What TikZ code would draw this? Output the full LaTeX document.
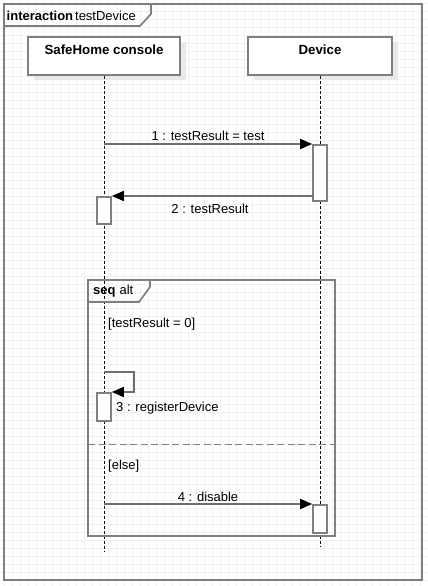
\documentclass[tikz,border=0pt]{standalone}
\usepackage{fontspec}
\setmainfont{Liberation Sans}
\usetikzlibrary{arrows.meta}
\definecolor{gridc}{HTML}{F1F1F1}
\definecolor{framec}{HTML}{7F7F7F}
\definecolor{msgc}{HTML}{6E6E6E}
\definecolor{shadowc}{HTML}{E9E9E9}
\begin{document}
\begin{tikzpicture}[x=1pt,y=-1pt,
  every node/.style={font=\fontsize{13}{15}\selectfont, inner sep=0pt},
  frameline/.style={draw=framec, line width=1.7pt},
  lifebox/.style={draw=framec, line width=1.7pt, fill=white, anchor=north,
     minimum height=38pt, text height=18pt, text depth=20pt, font=\fontsize{13.3}{15}\selectfont\bfseries},
  lifeline/.style={draw=black, line width=0.9pt, dash pattern=on 3pt off 2pt},
  activation/.style={draw=framec, line width=1.6pt, fill=white, minimum width=14pt, anchor=north},
  msg/.style={draw=msgc, line width=1.6pt, -{Triangle[length=12pt,width=10pt,color=black]}},
  msglabel/.style={text=black},
]
\useasboundingbox (0,0) rectangle (428,586);
\fill[white] (0,0) rectangle (428,586);
% grid
\foreach \g in {4,12,...,428} {
  \draw[gridc, line width=1pt] (\g,0) -- (\g,586);
}
\foreach \g in {4,12,...,586} {
  \draw[gridc, line width=1pt] (0,\g) -- (428,\g);
}
% outer interaction frame
\draw[frameline] (4,4) rectangle (422,580);
\draw[frameline] (151,4) -- (151,14) -- (140,26) -- (4,26);
\node[anchor=west] (title) at (6.5,15.5) {\textbf{interaction}\hspace{2pt}testDevice};

% shadows
\fill[shadowc] (34,42) rectangle (186,80);
\fill[shadowc] (254,42) rectangle (398,80);
% lifeline heads
\node[lifebox, minimum width=152pt] (console) at (104,36) {SafeHome console};
\node[lifebox, minimum width=144pt] (device) at (320,36) {Device};

\coordinate (consoleEnd) at (104,552);
\coordinate (deviceEnd) at (320,547);
\draw[lifeline] (console.south) -- (consoleEnd);
\draw[lifeline] (device.south) -- (deviceEnd);

% combined fragment
\draw[frameline] (88,280) rectangle (335,536);
\draw[frameline] (150,280) -- (150,287) -- (139,302) -- (88,302);
\node[anchor=west] (frag) at (93,291.5) {\textbf{seq}\hspace{4pt}alt};
\draw[framec, line width=1.6pt, dash pattern=on 7pt off 3.5pt] (88,444.5) -- (335,444.5);
\node[anchor=west] (guard1) at (108,324) {[testResult = 0]};
\node[anchor=west] (guard2) at (108,466.5) {[else]};

% activations
\node[activation, minimum height=56pt] (a1) at (320,144) {};
\node[activation, minimum height=27pt] (a2) at (104,196) {};
\node[activation, minimum height=28pt] (a3) at (104,392) {};
\node[activation, minimum height=28pt] (a4) at (320,504) {};

% messages
\coordinate (m1s) at (104,144);
\draw[msg] (m1s) -- (a1.north west);
\node[msglabel] (l1) at (208,136) {1 : testResult = test};

\coordinate (m2s) at (313,196);
\draw[msg] (m2s) -- (a2.north east);
\node[msglabel] (l2) at (210,208.5) {2 : testResult};

\coordinate (m3s) at (104,372);
\coordinate (m3c1) at (134,372);
\coordinate (m3c2) at (134,392);
\draw[msg] (m3s) -- (m3c1) -- (m3c2) -- (a3.north east);
\node[msglabel, anchor=west] (l3) at (116,408.5) {3 : registerDevice};

\coordinate (m4s) at (104,504);
\draw[msg] (m4s) -- (a4.north west);
\node[msglabel] (l4) at (208,497) {4 : disable};
\end{tikzpicture}
\end{document}
